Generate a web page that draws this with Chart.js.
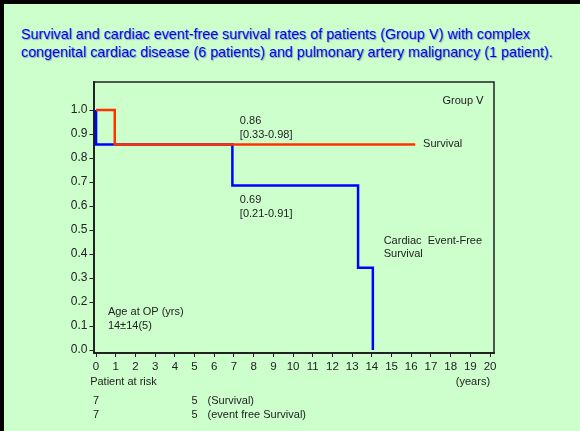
<!DOCTYPE html>
<html>
<head>
<meta charset="utf-8">
<script src="https://cdn.jsdelivr.net/npm/chart.js@4"></script>
<style>
  html, body { margin: 0; padding: 0; overflow: hidden; background: #ccffcc; width: 580px; height: 431px; }
  #frame {
    position: absolute; left: 0; top: 0;
    width: 576px; height: 427px;
    background: #ccffcc;
    border-left: 4px solid #000;
    border-top: 4px solid #000;
  }
  #title {
    position: absolute; left: 21px; top: 25px;
    font: 14.3px "Liberation Sans", Arial, sans-serif;
    line-height: 18px;
    color: #0000ff;
    white-space: nowrap;
    text-shadow: 1px 1px 1px rgba(0, 0, 80, 0.35);
  }
  #wrap { position: absolute; left: 0; top: 0; width: 580px; height: 431px; }
  canvas { display: block; }
</style>
</head>
<body>
<div id="frame"></div>
<div id="title">Survival and cardiac event-free survival rates of patients (Group Ⅴ) with complex<br>congenital cardiac disease (6 patients) and pulmonary artery malignancy (1 patient).</div>
<div id="wrap"><canvas id="chart" width="580" height="431"></canvas></div>
<script>
// Kaplan-Meier steps (years, rate)
const survivalYears = [0, 0.95, 16.2];
const survivalRates = [1.0, 0.857, 0.857];
const eventFreeYears = [0, 0, 6.92, 13.3, 14.05];
const eventFreeRates = [1.0, 0.857, 0.686, 0.343, 0.0];

const xTicks = [0, 1, 2, 3, 4, 5, 6, 7, 8, 9, 10, 11, 12, 13, 14, 15, 16, 17, 18, 19, 20];
const yTicks = [0, 0.1, 0.2, 0.3, 0.4, 0.5, 0.6, 0.7, 0.8, 0.9, 1.0];

// Patients at risk, at year 0 and year 5
const riskYears = [0, 5];
const riskSurvival = [7, 5];
const riskEventFree = [7, 5];

const font = '"Liberation Sans", Arial, sans-serif';
const ink = '#222';

function toPoints(xs, ys) {
  return xs.map((x, i) => ({ x: x, y: ys[i] }));
}

// Text notes placed in data units
const notes = [
  { text: 'Group Ⅴ', x: 19.7, y: 1.04, align: 'right' },
  { text: '0.86', x: 7.3, y: 0.955, align: 'left' },
  { text: '[0.33-0.98]', x: 7.3, y: 0.897, align: 'left' },
  { text: 'Survival', x: 16.6, y: 0.857, align: 'left' },
  { text: '0.69', x: 7.3, y: 0.627, align: 'left' },
  { text: '[0.21-0.91]', x: 7.3, y: 0.568, align: 'left' },
  { text: 'Cardiac  Event-Free', x: 14.6, y: 0.455, align: 'left' },
  { text: 'Survival', x: 14.6, y: 0.40, align: 'left' },
  { text: 'Age at OP (yrs)', x: 0.6, y: 0.16, align: 'left' },
  { text: '14±14(5)', x: 0.6, y: 0.10, align: 'left' }
];

const framePlugin = {
  id: 'frame',
  afterDraw(chart) {
    const c = chart.ctx;
    const a = chart.chartArea;
    const xs = chart.scales.x;
    const ys = chart.scales.y;
    c.save();
    c.strokeStyle = ink;
    c.lineWidth = 1.5;
    c.beginPath();
    c.moveTo(a.left, a.top);
    c.lineTo(a.right, a.top);
    c.lineTo(a.right, a.bottom);
    c.stroke();

    c.fillStyle = ink;
    c.font = '11px ' + font;
    c.textBaseline = 'middle';
    notes.forEach(n => {
      c.textAlign = n.align;
      c.fillText(n.text, xs.getPixelForValue(n.x), ys.getPixelForValue(n.y));
    });

    // below the axis
    c.textAlign = 'right';
    c.fillText('(years)', xs.getPixelForValue(20), 382);
    c.textAlign = 'left';
    c.fillText('Patient at risk', xs.getPixelForValue(-0.3), 382);
    riskYears.forEach((yr, i) => {
      const px = xs.getPixelForValue(yr);
      c.textAlign = 'center';
      c.fillText(String(riskSurvival[i]), px, 401);
      c.fillText(String(riskEventFree[i]), px, 415);
    });
    const px5 = xs.getPixelForValue(riskYears[1]) + 13;
    c.textAlign = 'left';
    c.fillText('(Survival)', px5, 401);
    c.fillText('(event free Survival)', px5, 415);
    c.restore();
  }
};

new Chart(document.getElementById('chart'), {
  type: 'line',
  data: {
    datasets: [
      {
        label: 'Survival',
        data: toPoints(survivalYears, survivalRates),
        borderColor: '#ff3300',
        borderWidth: 2.5,
        stepped: true,
        pointRadius: 0,
        fill: false
      },
      {
        label: 'Cardiac Event-Free Survival',
        data: toPoints(eventFreeYears, eventFreeRates),
        borderColor: '#0000ff',
        borderWidth: 2.5,
        stepped: true,
        pointRadius: 0,
        fill: false
      }
    ]
  },
  options: {
    responsive: false,
    animation: false,
    layout: { padding: { top: 82, right: 86, left: 0, bottom: 0 } },
    plugins: { legend: { display: false }, tooltip: { enabled: false } },
    scales: {
      x: {
        type: 'linear',
        min: -0.13,
        max: 20.2,
        afterBuildTicks: s => { s.ticks = xTicks.map(v => ({ value: v })); },
        afterFit: s => { s.height = 78; },
        border: { display: true, color: ink, width: 2 },
        grid: { drawOnChartArea: false, drawTicks: true, tickLength: 4, color: ink },
        ticks: { color: ink, font: { family: font, size: 11.5 }, padding: 3, maxRotation: 0, autoSkip: false }
      },
      y: {
        type: 'linear',
        min: -0.0125,
        max: 1.117,
        afterBuildTicks: s => { s.ticks = yTicks.map(v => ({ value: v })); },
        afterFit: s => { s.width = 93.5; },
        border: { display: true, color: ink, width: 2 },
        grid: { drawOnChartArea: false, drawTicks: true, tickLength: 4, color: ink },
        ticks: { color: ink, font: { family: font, size: 12 }, padding: 2, callback: v => v.toFixed(1) }
      }
    }
  },
  plugins: [framePlugin]
});
</script>
</body>
</html>
